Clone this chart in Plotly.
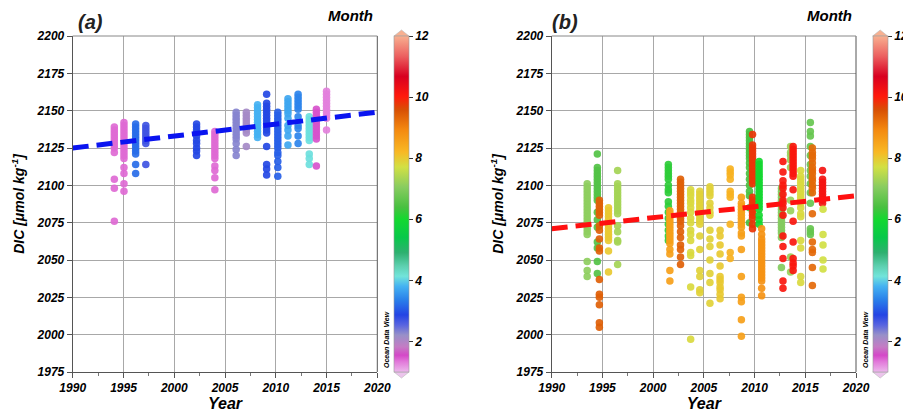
import plotly.graph_objects as go

# ---------------- data ----------------
# Panel (a): column year, month (colour), DIC values
a_years = [1994.1, 1995.05, 1996.2, 1997.2, 2002.2, 2004.0, 2006.1, 2007.1,
           2008.2, 2009.1, 2010.2, 2011.2, 2012.2, 2013.3, 2014.0, 2015.0]
a_months = [1.4, 1.4, 3.2, 2.7, 2.9, 1.4, 2.3, 2.1,
            3.8, 2.9, 3.1, 3.7, 3.4, 4.1, 1.5, 1.3]
a_dic = [
    [2139, 2137, 2135, 2133, 2131, 2129, 2127, 2125, 2122, 2104, 2098, 2076],
    [2142, 2140, 2138, 2136, 2134, 2132, 2130, 2128, 2126, 2124, 2122, 2120, 2118, 2112, 2108, 2101, 2096],
    [2141, 2139, 2137, 2135, 2133, 2131, 2129, 2127, 2125, 2123, 2121, 2114, 2108],
    [2140, 2138, 2136, 2134, 2132, 2130, 2128, 2114],
    [2141, 2139, 2137, 2135, 2133, 2130, 2128, 2125, 2123, 2120],
    [2136, 2134, 2132, 2130, 2128, 2126, 2124, 2122, 2120, 2118, 2113, 2110, 2105, 2097],
    [2149, 2147, 2145, 2143, 2141, 2139, 2137, 2135, 2133, 2131, 2128, 2124, 2120],
    [2149, 2147, 2145, 2143, 2141, 2139, 2137, 2135, 2126],
    [2154, 2152, 2150, 2148, 2146, 2144, 2142, 2140, 2138, 2136, 2134, 2132],
    [2161, 2155, 2153, 2151, 2149, 2147, 2145, 2143, 2141, 2139, 2137, 2135, 2126, 2114, 2111, 2107],
    [2149, 2147, 2145, 2143, 2141, 2139, 2137, 2135, 2133, 2131, 2129, 2127, 2125, 2122, 2120, 2116, 2112, 2106],
    [2158, 2156, 2154, 2152, 2150, 2148, 2145, 2140, 2137, 2133, 2127],
    [2161, 2159, 2157, 2155, 2153, 2151, 2146, 2140, 2138, 2133, 2128],
    [2146, 2144, 2142, 2140, 2138, 2136, 2134, 2132, 2130, 2121, 2118, 2114],
    [2151, 2149, 2147, 2145, 2143, 2141, 2139, 2137, 2135, 2133, 2131, 2113],
    [2163, 2161, 2159, 2157, 2155, 2153, 2151, 2149, 2147, 2145, 2137],
]

# Panel (b)
b_years = [1993.5, 1994.5, 1994.7, 1995.6, 1996.5, 2001.5, 2001.65, 2002.7, 2003.7,
           2004.6, 2005.6, 2006.6, 2007.6, 2008.7, 2009.5, 2009.8, 2010.45, 2010.7,
           2012.65, 2012.8, 2013.55, 2013.8, 2014.55, 2015.5, 2015.7, 2016.7, 2016.75]
b_months = [7.1, 6.5, 9.4, 8.0, 7.3, 6.2, 8.6, 9.4, 7.8,
            7.9, 7.9, 8.0, 8.3, 8.6, 6.4, 9.8, 6.0, 8.8,
            7.0, 10.1, 7.2, 10.1, 7.8, 6.7, 9.3, 10.2, 7.7]
b_dic = [
    [2101, 2099, 2097, 2095, 2093, 2091, 2089, 2087, 2085, 2083, 2081, 2079, 2077, 2075, 2073, 2071, 2069, 2067, 2049, 2043, 2039],
    [2121, 2112, 2110, 2108, 2106, 2104, 2102, 2100, 2098, 2096, 2094, 2092, 2090, 2082, 2077, 2072, 2062, 2058, 2049, 2041],
    [2090, 2088, 2086, 2084, 2082, 2080, 2073, 2070, 2064, 2058, 2056, 2037, 2027, 2025, 2020, 2008, 2005],
    [2085, 2083, 2081, 2079, 2077, 2075, 2073, 2071, 2069, 2067, 2065, 2063, 2056, 2042],
    [2110, 2101, 2099, 2097, 2095, 2093, 2091, 2089, 2087, 2085, 2083, 2081, 2073, 2069, 2063, 2062, 2047],
    [2114, 2112, 2110, 2108, 2106, 2104, 2100, 2097, 2095, 2089, 2086, 2082, 2078, 2074, 2070, 2066, 2063],
    [2083, 2081, 2079, 2077, 2075, 2073, 2071, 2069, 2067, 2065, 2063, 2061, 2057, 2054, 2043, 2036],
    [2104, 2102, 2100, 2098, 2096, 2094, 2092, 2090, 2088, 2086, 2084, 2082, 2080, 2078, 2076, 2073, 2069, 2065, 2060, 2057, 2052, 2047],
    [2097, 2095, 2093, 2090, 2088, 2085, 2082, 2078, 2075, 2070, 2067, 2063, 2055, 2053, 2032, 1997],
    [2096, 2094, 2092, 2090, 2088, 2086, 2084, 2082, 2080, 2078, 2076, 2074, 2066, 2057, 2043, 2039, 2030, 2028],
    [2099, 2097, 2095, 2093, 2088, 2085, 2082, 2080, 2070, 2064, 2059, 2050, 2041, 2035, 2021],
    [2070, 2066, 2060, 2054, 2046, 2039, 2037, 2035, 2032, 2030, 2027, 2024],
    [2111, 2109, 2107, 2104, 2096, 2094, 2092, 2074, 2055, 2051],
    [2092, 2088, 2086, 2084, 2082, 2080, 2078, 2076, 2074, 2072, 2068, 2066, 2057, 2039, 2025, 2022, 2010, 1999],
    [2136, 2134, 2132, 2130, 2128, 2126, 2124, 2122, 2120, 2118, 2115, 2112, 2108, 2104, 2100, 2096, 2093, 2085, 2075],
    [2134, 2127, 2125, 2123, 2121, 2119, 2117, 2115, 2113, 2111, 2109, 2107, 2105, 2103, 2101, 2092, 2090, 2088, 2086, 2084, 2082, 2080, 2078, 2074, 2071],
    [2116, 2114, 2112, 2110, 2108, 2106, 2104, 2102, 2100, 2098, 2096, 2094, 2092, 2090, 2088, 2086, 2084, 2080, 2077, 2074],
    [2071, 2067, 2064, 2062, 2060, 2058, 2056, 2054, 2052, 2050, 2048, 2046, 2044, 2042, 2040, 2038, 2036, 2031, 2026],
    [2098, 2096, 2094, 2092, 2090, 2088, 2086, 2084, 2082, 2080, 2078, 2076, 2074, 2072, 2070, 2068, 2065, 2045],
    [2116, 2109, 2103, 2100, 2098, 2094, 2090, 2088, 2085, 2080, 2066, 2059, 2051, 2036, 2031],
    [2126, 2122, 2120, 2117, 2112, 2090, 2083, 2052, 2042],
    [2126, 2124, 2122, 2120, 2118, 2116, 2114, 2112, 2110, 2108, 2106, 2097, 2076, 2062, 2051, 2048, 2046, 2043],
    [2110, 2106, 2104, 2102, 2100, 2098, 2096, 2094, 2092, 2090, 2088, 2085, 2081, 2079, 2063, 2058, 2039, 2035],
    [2142, 2136, 2133, 2126, 2120, 2114, 2110, 2106, 2101, 2095, 2088, 2071, 2069, 2067],
    [2125, 2122, 2120, 2118, 2115, 2112, 2110, 2108, 2105, 2103, 2100, 2098, 2095, 2081, 2062, 2057, 2055, 2045, 2033],
    [2110, 2104, 2102, 2100, 2098, 2096, 2094, 2092, 2090, 2088],
    [2084, 2067, 2060, 2050, 2044],
]

trend_years = [1990, 2020]
trend_a = [2125, 2149]
trend_b = [2071, 2093]

x_ticks = [1990, 1995, 2000, 2005, 2010, 2015, 2020]
y_ticks = [1975, 2000, 2025, 2050, 2075, 2100, 2125, 2150, 2175, 2200]
cbar_ticks = [2, 4, 6, 8, 10, 12]

# ODV-like palette, month 1 .. 12
odv_scale = [
    [0.000, "#ecb8ec"], [0.030, "#e27ada"], [0.050, "#d448c8"], [0.075, "#c47cc4"],
    [0.110, "#9890c8"], [0.140, "#5864e0"], [0.170, "#2444e4"], [0.215, "#2a80ea"],
    [0.255, "#44b2f2"], [0.285, "#72e4da"], [0.315, "#5ed0b0"], [0.355, "#2eb070"],
    [0.400, "#08c84a"], [0.455, "#14d830"], [0.490, "#48c040"], [0.550, "#88cc60"],
    [0.610, "#d2e044"], [0.655, "#f8b824"], [0.720, "#f48a10"], [0.780, "#d85004"],
    [0.820, "#ff1a0c"], [0.880, "#d80020"], [0.940, "#ec6060"], [1.000, "#f8b090"],
]

FONT = "Liberation Sans"


def flatten(years, months, dic):
    xs, ys, cs = [], [], []
    for yr, mo, vals in zip(years, months, dic):
        for v in vals:
            xs.append(yr)
            ys.append(v)
            cs.append(mo)
    return xs, ys, cs


# ---------------- geometry (paper coords) ----------------
W, H = 903, 414
y_bot, y_top = 1 - 372 / H, 1 - 36 / H
dom_a = [72.7 / W, 377.3 / W]
dom_b = [551.7 / W, 856.0 / W]
cb_a_x = 394 / W
cb_b_x = 872.7 / W
cb_thick = 15

fig = go.Figure()

ax_, ay_, ac_ = flatten(a_years, a_months, a_dic)
bx_, by_, bc_ = flatten(b_years, b_months, b_dic)

tickf = dict(family=FONT, size=12, color="black", weight="bold", style="italic")

for xs, ys, cs, xa, ya, cbx in [(ax_, ay_, ac_, "x", "y", cb_a_x),
                                (bx_, by_, bc_, "x2", "y2", cb_b_x)]:
    fig.add_trace(go.Scatter(
        x=xs, y=ys, mode="markers", xaxis=xa, yaxis=ya, showlegend=False,
        marker=dict(size=7.5, color=cs, colorscale=odv_scale, cmin=1, cmax=12,
                    opacity=0.92, line=dict(width=0),
                    showscale=True,
                    colorbar=dict(x=cbx, xanchor="left", y=y_bot, yanchor="bottom",
                                  len=(y_top - y_bot), lenmode="fraction",
                                  thickness=cb_thick, xpad=0, ypad=0,
                                  tickvals=cbar_ticks, ticks="outside", ticklen=4,
                                  tickcolor="#333", tickfont=tickf,
                                  outlinewidth=0.6, outlinecolor="#999"))))

fig.add_trace(go.Scatter(x=trend_years, y=trend_a, mode="lines", xaxis="x", yaxis="y",
                         showlegend=False, line=dict(color="#0a14f0", width=5, dash="16px,8px")))
fig.add_trace(go.Scatter(x=trend_years, y=trend_b, mode="lines", xaxis="x2", yaxis="y2",
                         showlegend=False, line=dict(color="#ff1010", width=5, dash="16px,8px")))

xaxis_common = dict(range=[1990, 2020], tickvals=x_ticks, showgrid=True, gridcolor="#a8a8a8",
                    gridwidth=1, zeroline=False, showline=True, linecolor="#555", linewidth=1,
                    mirror=False, ticks="outside", ticklen=5, tickcolor="#555", tickfont=tickf,
                    automargin=False,
                    minor=dict(dtick=2.5, ticks="outside", ticklen=3, tickcolor="#777", showgrid=False),
                    title=dict(text="Year", font=dict(family=FONT, size=16, color="black",
                                                      weight="bold", style="italic"), standoff=3))
yaxis_common = dict(range=[1975, 2200], tickvals=y_ticks, showgrid=True, gridcolor="#a8a8a8",
                    gridwidth=1, zeroline=False, showline=True, linecolor="#555", linewidth=1,
                    ticks="outside", ticklen=5, tickcolor="#555", tickfont=tickf,
                    automargin=False,
                    title=dict(text="DIC [μmol kg<sup>-1</sup>]",
                               font=dict(family=FONT, size=14, color="black",
                                         weight="bold", style="italic"), standoff=8))

fig.update_layout(
    width=W, height=H, margin=dict(l=0, r=0, t=0, b=0, autoexpand=False),
    paper_bgcolor="white", plot_bgcolor="white",
    xaxis=dict(domain=dom_a, anchor="y", **xaxis_common),
    yaxis=dict(domain=[y_bot, y_top], anchor="x", **yaxis_common),
    xaxis2=dict(domain=dom_b, anchor="y2", **xaxis_common),
    yaxis2=dict(domain=[y_bot, y_top], anchor="x2", **yaxis_common),
)

# right/top border lines
shapes = []
for d in (dom_a, dom_b):
    shapes.append(dict(type="line", xref="paper", yref="paper", x0=d[1], x1=d[1],
                       y0=y_bot, y1=y_top, line=dict(color="#555", width=1)))
    shapes.append(dict(type="line", xref="paper", yref="paper", x0=d[0], x1=d[1],
                       y0=y_top, y1=y_top, line=dict(color="#888", width=1)))
# colourbar end triangles
for cbx in (cb_a_x, cb_b_x):
    x0 = cbx
    x1 = cbx + cb_thick / W
    xm = (x0 + x1) / 2
    shapes.append(dict(type="path", xref="paper", yref="paper",
                       path=f"M {x0} {y_top} L {x1} {y_top} L {xm} {y_top + 6 / H} Z",
                       fillcolor="#f8b090", line=dict(color="#bbb", width=0.6)))
    shapes.append(dict(type="path", xref="paper", yref="paper",
                       path=f"M {x0} {y_bot} L {x1} {y_bot} L {xm} {y_bot - 6 / H} Z",
                       fillcolor="#ecc4ec", line=dict(color="#bbb", width=0.6)))
fig.update_layout(shapes=shapes)

ann = []
for lbl, px, mx, ox in [("(a)", 90, 350, 386), ("(b)", 565, 829, 865)]:
    ann.append(dict(text=lbl, xref="paper", yref="paper", x=px / W, y=1 - 22 / H,
                    xanchor="center", yanchor="middle", showarrow=False,
                    font=dict(family=FONT, size=20, color="#222", weight="bold", style="italic")))
    ann.append(dict(text="Month", xref="paper", yref="paper", x=mx / W, y=1 - 16 / H,
                    xanchor="center", yanchor="middle", showarrow=False,
                    font=dict(family=FONT, size=15, color="black", weight="bold", style="italic")))
    ann.append(dict(text="Ocean Data View", xref="paper", yref="paper", x=ox / W, y=1 - 340 / H,
                    xanchor="center", yanchor="middle", showarrow=False, textangle=-90,
                    font=dict(family=FONT, size=7, color="black", weight="bold", style="italic")))
fig.update_layout(annotations=ann)

fig.write_html("out.html", config={"displayModeBar": False},
               post_script="document.body.style.margin='0';")
